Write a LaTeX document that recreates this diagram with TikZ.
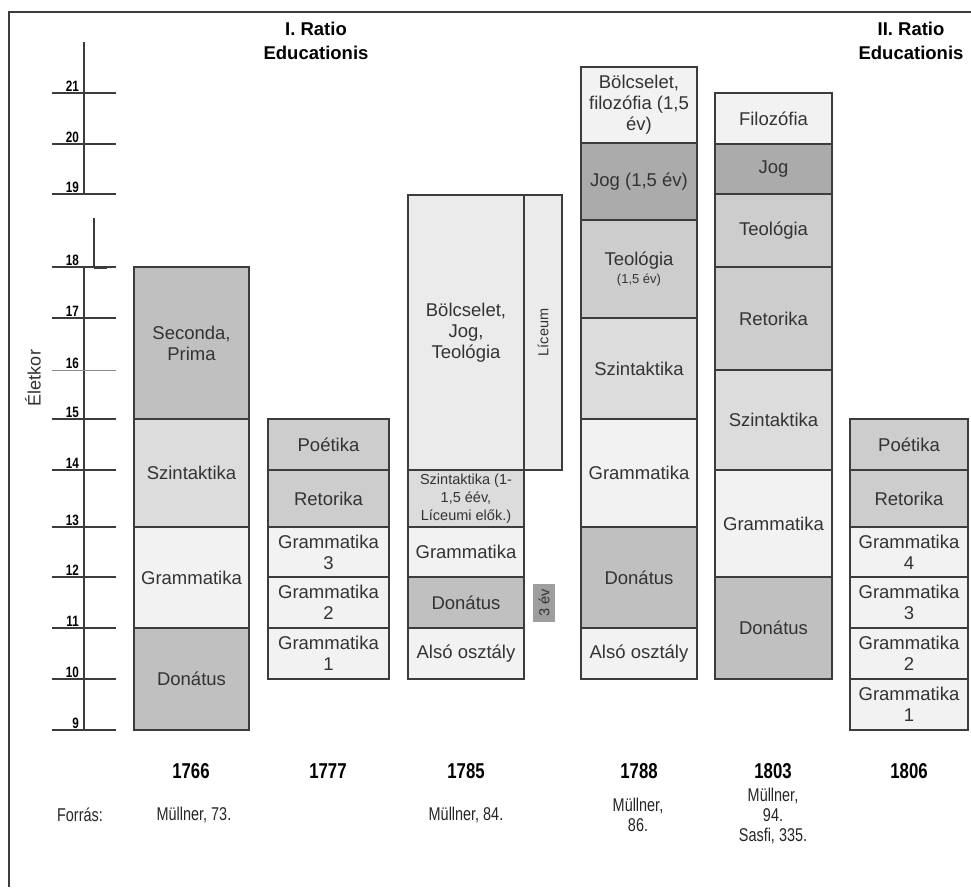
\documentclass[tikz,border=0pt]{standalone}
\usepackage{fontspec}
\setmainfont{Liberation Sans}

\definecolor{cdark}{HTML}{C0C0C0}
\definecolor{cjog}{HTML}{ABABAB}
\definecolor{cmid}{HTML}{CDCDCD}
\definecolor{cszin}{HTML}{DCDCDC}
\definecolor{clight}{HTML}{F1F2F1}
\definecolor{cbox}{HTML}{9E9E9E}
\definecolor{cline}{HTML}{3C3C3C}

\tikzset{
  blk/.style={draw=cline,line width=1.3pt},
  lbl/.style={align=center,inner sep=0pt,text=black!80,font=\fontsize{18.5}{21}\selectfont},
  small/.style={align=center,inner sep=0pt,text=black!80,font=\fontsize{14.5}{18}\selectfont},
  axis/.style={draw=cline,line width=1.6pt},
  agelbl/.style={anchor=south east,inner sep=1pt,font=\bfseries\fontsize{15}{15}\selectfont},
  year/.style={font=\bfseries\fontsize{21.5}{21.5}\selectfont},
  src/.style={align=center,inner sep=0pt,text=black!85,font=\fontsize{18.5}{20}\selectfont},
  title/.style={align=center,font=\bfseries\fontsize{18.5}{24}\selectfont},
}
\newcommand{\narrow}[1]{\scalebox{0.78}[1]{#1}}

\begin{document}
\begin{tikzpicture}[x=1pt,y=-1pt]
\useasboundingbox (0,0) rectangle (971,887);
\fill[white] (0,0) rectangle (971,887);
% frame
\draw[cline,line width=1.2pt] (971,12) -- (9,12) -- (9,887);

% age axis
\draw[axis] (84,42) -- (84,194);
\draw[axis] (94,218) -- (94,267);
\draw[cline,line width=3pt] (94,267) -- (107,267);
\draw[axis] (84,267) -- (84,730);
\foreach \a/\y in {9/730,10/679,11/628,12/577,13/527,14/470,15/419,17/318,18/267,19/194,20/144,21/93}{
  \draw[axis] (52,\y) -- (116,\y);
  \node[agelbl] (age\a) at (80,\y) {\narrow{\a}};
}
\draw[cline!60,line width=1pt] (52,370) -- (116,370);
\node[agelbl] (age16) at (80,370) {\narrow{16}};
\node[rotate=90,font=\fontsize{18}{18}\selectfont,text=black!80] (eletkor) at (33,378) {Életkor};

% titles
\node[title] (ratio1) at (316,41) {I. Ratio\\Educationis};
\node[title] (ratio2) at (911,41) {II. Ratio\\Educationis};

% 1766
\path[blk,fill=cdark] (134,267) rectangle node[lbl] (a1) {Seconda,\\Prima} (249,419);
\path[blk,fill=cszin] (134,419) rectangle node[lbl] (a2) {Szintaktika} (249,527);
\path[blk,fill=clight] (134,527) rectangle node[lbl] (a3) {Grammatika} (249,628);
\path[blk,fill=cdark] (134,628) rectangle node[lbl] (a4) {Donátus} (249,730);

% 1777
\path[blk,fill=cmid] (268,419) rectangle node[lbl] (b1) {Poétika} (389,470);
\path[blk,fill=cmid] (268,470) rectangle node[lbl] (b2) {Retorika} (389,527);
\path[blk,fill=clight] (268,527) rectangle node[lbl] (b3) {Grammatika\\3} (389,577);
\path[blk,fill=clight] (268,577) rectangle node[lbl] (b4) {Grammatika\\2} (389,628);
\path[blk,fill=clight] (268,628) rectangle node[lbl] (b5) {Grammatika\\1} (389,679);

% 1785
\path[blk,fill=clight!97!black] (408,195) rectangle node[lbl] (c1) {Bölcselet,\\Jog,\\Teológia} (524,470);
\path[blk,fill=clight!97!black] (524,195) rectangle node[small,rotate=90] (c0) {Líceum} (562,470);
\path[blk,fill=cszin] (408,470) rectangle node[small] (c2) {Szintaktika (1-\\1,5 éév,\\Líceumi elők.)} (524,527);
\path[blk,fill=clight] (408,527) rectangle node[lbl] (c3) {Grammatika} (524,577);
\path[blk,fill=cdark] (408,577) rectangle node[lbl] (c4) {Donátus} (524,628);
\path[blk,fill=clight] (408,628) rectangle node[lbl] (c5) {Alsó osztály} (524,679);
\path[fill=cbox] (533,584) rectangle node[small,rotate=90] (harom) {3 év} (555,622);

% 1788
\path[blk,fill=clight] (581,67) rectangle node[lbl] (d1) {Bölcselet,\\filozófia (1,5\\év)} (697,143);
\path[blk,fill=cjog] (581,143) rectangle node[lbl] (d2) {Jog (1,5 év)} (697,220);
\path[blk,fill=cmid] (581,220) rectangle node[lbl] (d3) {Teológia\\[-3pt]{\fontsize{13}{15}\selectfont(1,5 év)}} (697,318);
\path[blk,fill=cszin] (581,318) rectangle node[lbl] (d4) {Szintaktika} (697,419);
\path[blk,fill=clight] (581,419) rectangle node[lbl] (d5) {Grammatika} (697,527);
\path[blk,fill=cdark] (581,527) rectangle node[lbl] (d6) {Donátus} (697,628);
\path[blk,fill=clight] (581,628) rectangle node[lbl] (d7) {Alsó osztály} (697,679);

% 1803
\path[blk,fill=clight] (715,93) rectangle node[lbl] (e1) {Filozófia} (832,144);
\path[blk,fill=cjog] (715,144) rectangle node[lbl] (e2) {Jog} (832,194);
\path[blk,fill=cmid] (715,194) rectangle node[lbl] (e3) {Teológia} (832,267);
\path[blk,fill=cmid] (715,267) rectangle node[lbl] (e4) {Retorika} (832,370);
\path[blk,fill=cszin] (715,370) rectangle node[lbl] (e5) {Szintaktika} (832,470);
\path[blk,fill=clight] (715,470) rectangle node[lbl] (e6) {Grammatika} (832,577);
\path[blk,fill=cdark] (715,577) rectangle node[lbl] (e7) {Donátus} (832,679);

% 1806
\path[blk,fill=cmid] (850,419) rectangle node[lbl] (f1) {Poétika} (968,470);
\path[blk,fill=cmid] (850,470) rectangle node[lbl] (f2) {Retorika} (968,527);
\path[blk,fill=clight] (850,527) rectangle node[lbl] (f3) {Grammatika\\4} (968,577);
\path[blk,fill=clight] (850,577) rectangle node[lbl] (f4) {Grammatika\\3} (968,628);
\path[blk,fill=clight] (850,628) rectangle node[lbl] (f5) {Grammatika\\2} (968,679);
\path[blk,fill=clight] (850,679) rectangle node[lbl] (f6) {Grammatika\\1} (968,730);

% years
\foreach \n/\x in {1766/191,1777/328,1785/466,1788/639,1803/773,1806/909}{
  \node[year] (y\n) at (\x,771) {\narrow{\n}};
}

% sources
\node[src] (forras) at (80,815) {\narrow{Forrás:}};
\node[src] (s66) at (194,815) {\narrow{Müllner, 73.}};
\node[src] (s85) at (466,815) {\narrow{Müllner, 84.}};
\node[src] (s88) at (638,815) {\narrow{Müllner,}\\\narrow{86.}};
\node[src] (s03) at (773,816) {\narrow{Müllner,}\\\narrow{94.}\\\narrow{Sasfi,\ 335.}};
\end{tikzpicture}
\end{document}
